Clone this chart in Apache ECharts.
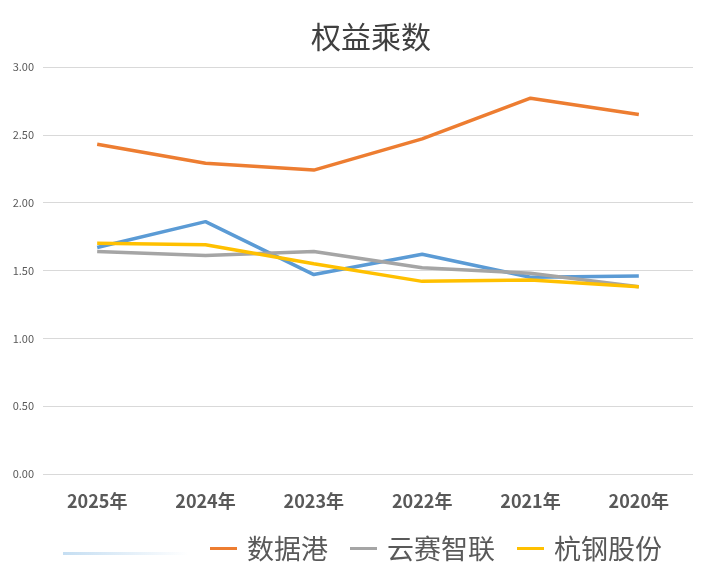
<!DOCTYPE html>
<html><head><meta charset="utf-8">
<script src="https://cdn.jsdelivr.net/npm/echarts@6/dist/echarts.min.js"></script>
<style>html,body{margin:0;padding:0;background:#fff}#c{width:719px;height:584px}</style>
</head><body><div id="c"></div>
<script>
const categories = ['2025年','2024年','2023年','2022年','2021年','2020年'];
const yTicks = [0, 0.5, 1, 1.5, 2, 2.5, 3];
const blueName = '系列1';
const blueVals = [1.67, 1.86, 1.47, 1.62, 1.45, 1.46];
const shujugangVals = [2.43, 2.29, 2.24, 2.47, 2.77, 2.65];
const yunsaiVals = [1.64, 1.61, 1.64, 1.52, 1.48, 1.38];
const hanggangVals = [1.70, 1.69, 1.55, 1.42, 1.43, 1.38];

const font = '"Noto Sans CJK SC", sans-serif';
const chart = echarts.init(document.getElementById('c'));
function line(name, data, color) {
  return { name, type: 'line', data, showSymbol: false, symbol: 'none',
    lineStyle: { color, width: 3.5 }, itemStyle: { color } };
}
chart.setOption({
  animation: false,
  title: { text: '权益乘数', left: 306, top: 17,
    textStyle: { fontFamily: font, fontSize: 30, fontWeight: 'normal', color: '#404040' } },
  grid: { left: 43, right: 26, top: 67, bottom: 110 },
  xAxis: { type: 'category', data: categories, boundaryGap: true,
    axisLine: { show: false }, axisTick: { show: false },
    axisLabel: { margin: 18, fontFamily: font, fontSize: 18, fontWeight: 'bold', color: '#595959' } },
  yAxis: { type: 'value', min: yTicks[0], max: yTicks[yTicks.length - 1], interval: 0.5,
    axisLine: { show: false }, axisTick: { show: false },
    axisLabel: { margin: 9, fontFamily: font, fontSize: 11, color: '#595959', formatter: v => v.toFixed(2) },
    splitLine: { lineStyle: { color: '#d9d9d9', width: 1 } } },
  legend: [
    { left: 205, top: 530, itemWidth: 27, itemHeight: 3, itemGap: 22, icon: 'rect',
      data: ['数据港', '云赛智联', '杭钢股份'],
      textStyle: { fontFamily: font, fontSize: 27, color: '#595959', padding: [0, 0, 0, 5] } },
    { left: 58, top: 547, itemWidth: 125, itemHeight: 3, icon: 'rect', selectedMode: false,
      data: [{ name: blueName, itemStyle: { color: { type: 'linear', x: 0, y: 0, x2: 1, y2: 0,
        colorStops: [{ offset: 0, color: '#c5def2' }, { offset: 1, color: '#ffffff' }] } } }],
      formatter: () => '', textStyle: { fontSize: 1 } }
  ],
  series: [
    line(blueName, blueVals, '#5b9bd5'),
    line('数据港', shujugangVals, '#ed7d31'),
    line('云赛智联', yunsaiVals, '#a5a5a5'),
    line('杭钢股份', hanggangVals, '#ffc000')
  ]
});
</script></body></html>
